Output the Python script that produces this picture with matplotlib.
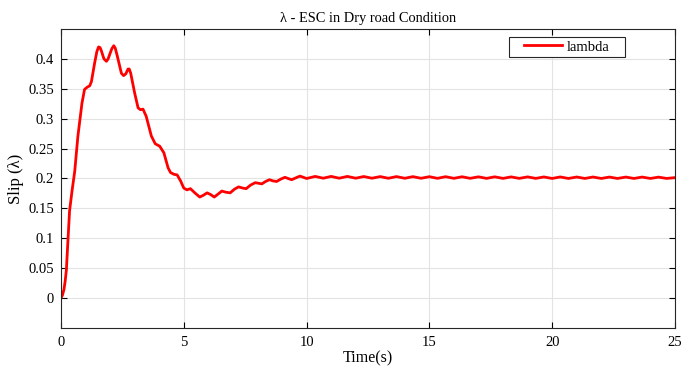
import numpy as np
import matplotlib.pyplot as plt
from matplotlib.patches import Rectangle
from matplotlib.ticker import FormatStrFormatter

# Slip response (lambda) of the ESC controller on dry road
time_s = [0.0, 0.06, 0.12, 0.17, 0.22, 0.285, 0.35, 0.45, 0.56, 0.69,
          0.855, 0.96, 1.08, 1.17, 1.24, 1.37, 1.46, 1.53, 1.59, 1.64,
          1.75, 1.85, 1.92, 1.98, 2.07, 2.15, 2.21, 2.28, 2.46, 2.55,
          2.64, 2.73, 2.78, 2.84, 3.0, 3.14, 3.24, 3.34, 3.47, 3.68,
          3.84, 3.93, 4.02, 4.19, 4.36, 4.46, 4.6, 4.73, 4.87, 5.0,
          5.13, 5.27, 5.45, 5.65, 5.8, 5.95, 6.1, 6.24, 6.4, 6.55,
          6.72, 6.89, 7.06, 7.23, 7.4, 7.54, 7.72, 7.91, 8.05, 8.18,
          8.33, 8.49, 8.63, 8.78, 8.95, 9.12, 9.25, 9.39, 9.56, 9.73,
          9.87, 10.0, 10.35, 10.68, 11.0, 11.33, 11.66, 12.0, 12.33, 12.66,
          13.0, 13.33, 13.66, 14.0, 14.33, 14.66, 15.0, 15.33, 15.66, 16.0,
          16.33, 16.66, 17.0, 17.33, 17.66, 18.0, 18.33, 18.66, 19.0, 19.33,
          19.66, 20.0, 20.33, 20.66, 21.0, 21.33, 21.66, 22.0, 22.33, 22.66,
          23.0, 23.33, 23.66, 24.0, 24.33, 24.66, 25.0]
slip = [0.0, 0.005, 0.014, 0.028, 0.047, 0.097, 0.146, 0.179, 0.212, 0.271,
        0.326, 0.349, 0.353, 0.355, 0.362, 0.393, 0.412, 0.420, 0.419, 0.414,
        0.400, 0.396, 0.400, 0.407, 0.417, 0.422, 0.418, 0.407, 0.376, 0.372,
        0.375, 0.383, 0.383, 0.376, 0.343, 0.318, 0.315, 0.316, 0.304, 0.271,
        0.258, 0.256, 0.254, 0.243, 0.218, 0.210, 0.207, 0.206, 0.196, 0.184,
        0.181, 0.183, 0.176, 0.169, 0.172, 0.176, 0.173, 0.169, 0.174, 0.179,
        0.177, 0.176, 0.182, 0.186, 0.184, 0.183, 0.189, 0.193, 0.192, 0.191,
        0.195, 0.198, 0.196, 0.195, 0.199, 0.202, 0.200, 0.198, 0.201, 0.204,
        0.202, 0.200, 0.2035, 0.2005, 0.2035, 0.2005, 0.2035, 0.2005, 0.2033, 0.2005,
        0.2032, 0.2004, 0.2032, 0.2004, 0.2031, 0.2004, 0.2030, 0.2003, 0.2030, 0.2003,
        0.2029, 0.2003, 0.2028, 0.2002, 0.2028, 0.2002, 0.2027, 0.2002, 0.2027, 0.2002,
        0.2026, 0.2001, 0.2026, 0.2001, 0.2025, 0.2001, 0.2025, 0.2001, 0.2024, 0.2001,
        0.2024, 0.2001, 0.2024, 0.2001, 0.2023, 0.2001, 0.2015]

x_ticks = [0, 5, 10, 15, 20, 25]
y_ticks = [0, 0.05, 0.1, 0.15, 0.2, 0.25, 0.3, 0.35, 0.4]

plt.rcParams['font.family'] = ['Liberation Serif', 'DejaVu Serif']

fig = plt.figure(figsize=(6.82, 3.73), dpi=100)
ax = fig.add_axes([0.0894, 0.1206, 0.9003, 0.8017])

ax.plot(time_s, slip, color='red', linewidth=2.0, label='lambda')

ax.set_xlim(0, 25)
ax.set_ylim(-0.05, 0.45)
ax.set_xticks(x_ticks)
ax.set_yticks(y_ticks)
ax.yaxis.set_major_formatter(FormatStrFormatter('%g'))
ax.tick_params(direction='in', top=True, right=True, length=4, width=0.8,
               labelsize=10.5)
ax.tick_params(axis='y', pad=5)
ax.tick_params(axis='x', pad=6)
ax.grid(True, color='#e3e3e3', linewidth=0.8)
ax.set_axisbelow(True)
for sp in ax.spines.values():
    sp.set_linewidth(0.8)
    sp.set_color('#262626')

ax.set_title('λ - ESC in Dry road Condition', fontsize=10.4, pad=5)
ax.set_xlabel('Time(s)', fontsize=11.5, labelpad=1)
ax.set_ylabel('Slip (λ)', fontsize=12, labelpad=3)

# legend box drawn separately so the entry sits centred with wide side margins
box = Rectangle((0.7296, 0.905), 0.189, 0.069, transform=ax.transAxes,
                facecolor='white', edgecolor='#262626', linewidth=0.8, zorder=4)
ax.add_patch(box)
leg = ax.legend(loc='center', bbox_to_anchor=(0.824, 0.94), fontsize=10.5,
                frameon=False, handlelength=2.6, handletextpad=0.3,
                borderpad=0, borderaxespad=0)
leg.set_zorder(5)

fig.savefig('out.png', dpi=100)
